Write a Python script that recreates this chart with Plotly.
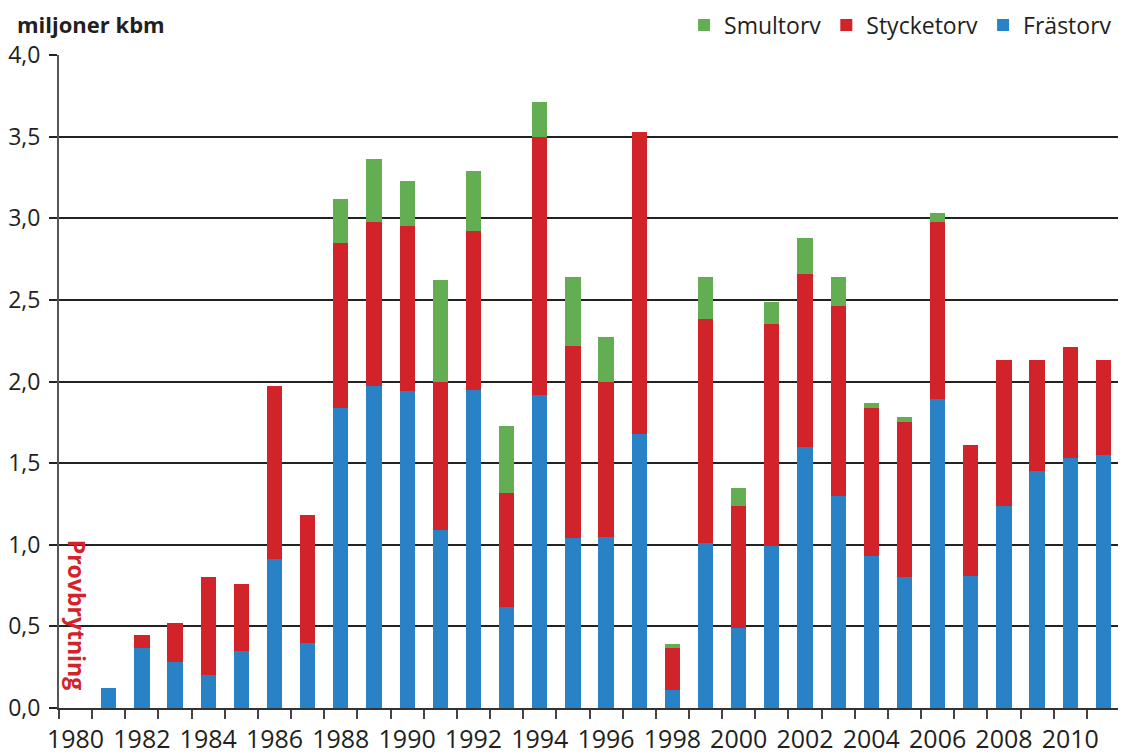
import plotly.graph_objects as go

years = list(range(1980, 2012))
# segment values (millions m3)
frastorv = [0, 0.12, 0.37, 0.28, 0.20, 0.35, 0.91, 0.40, 1.84, 1.97, 1.94, 1.09, 1.95, 0.62,
            1.92, 1.04, 1.05, 1.68, 0.11, 1.01, 0.49, 0.99, 1.60, 1.30, 0.93, 0.80, 1.89,
            0.81, 1.24, 1.45, 1.53, 1.55]
stycketorv = [0, 0, 0.08, 0.24, 0.60, 0.41, 1.06, 0.78, 1.01, 1.01, 1.01, 0.91, 0.97, 0.70,
              1.58, 1.18, 0.95, 1.85, 0.26, 1.37, 0.75, 1.36, 1.06, 1.16, 0.91, 0.95, 1.09,
              0.80, 0.89, 0.68, 0.68, 0.58]
smultorv = [0, 0, 0, 0, 0, 0, 0, 0, 0.27, 0.38, 0.28, 0.62, 0.37, 0.41,
            0.21, 0.42, 0.27, 0, 0.02, 0.26, 0.11, 0.14, 0.22, 0.18, 0.03, 0.03, 0.05,
            0, 0, 0, 0, 0]
tick_years = list(range(1980, 2011, 2))
ytick_vals = [0, 0.5, 1.0, 1.5, 2.0, 2.5, 3.0, 3.5, 4.0]

BLUE = "#2a82c6"
RED = "#d2232a"
GREEN = "#63ad52"
FONT = "Open Sans, Noto Sans, sans-serif"
TXT = "#231f20"

fig = go.Figure()
fig.add_bar(x=years, y=frastorv, name="Frästorv", marker=dict(color=BLUE, line_width=0))
fig.add_bar(x=years, y=stycketorv, name="Stycketorv", marker=dict(color=RED, line_width=0))
fig.add_bar(x=years, y=smultorv, name="Smultorv", marker=dict(color=GREEN, line_width=0))

fig.update_layout(
    barmode="stack",
    bargap=0.54,
    width=1118, height=748, autosize=False,
    margin=dict(l=51, r=6, t=47, b=48, autoexpand=False),
    plot_bgcolor="white", paper_bgcolor="white",
    separators=", ",
    font=dict(family=FONT, color=TXT, size=23),
    showlegend=True,
    legend=dict(orientation="h", traceorder="reversed", x=0.992, xanchor="right",
                xref="container", y=1.046, yanchor="middle", yref="paper",
                font=dict(size=23, family=FONT, color=TXT), itemwidth=30,
                bgcolor="rgba(0,0,0,0)"),
    xaxis=dict(range=[1979.5, 2011.5], tickmode="array", tickvals=tick_years,
               ticktext=[str(y) for y in tick_years], ticks="", showgrid=False,
               showline=True, linecolor="#333", linewidth=2, zeroline=False,
               automargin=False, tickfont=dict(size=25), ticklabelstandoff=8,
               minor=dict(tickmode="array", tickvals=[y - 0.5 for y in years] + [2011.5],
                          ticks="outside", ticklen=9, tickcolor="#444", tickwidth=1.5,
                          showgrid=False)),
    yaxis=dict(range=[0, 4.0], tickmode="array", tickvals=ytick_vals, tickformat=".1f",
               showgrid=True, gridcolor="#222", gridwidth=1.5, ticks="outside", ticklen=8,
               tickcolor="#222", tickwidth=1.5, showline=True, linecolor="#555", linewidth=2,
               mirror=True, zeroline=False, automargin=False, tickfont=dict(size=23),
               ticklabelstandoff=4),
)
fig.add_annotation(text="<b>miljoner kbm</b>", xref="paper", yref="paper", x=-0.041, y=1.048,
                   xanchor="left", yanchor="middle", showarrow=False,
                   font=dict(size=22, family=FONT, color=TXT))
fig.add_annotation(text="<b>Provbrytning</b>", xref="x", yref="y", x=1980.05, y=0.57,
                   textangle=90, showarrow=False, xanchor="center", yanchor="middle",
                   font=dict(size=23, family=FONT, color=RED))

fig.write_html("out.html")
